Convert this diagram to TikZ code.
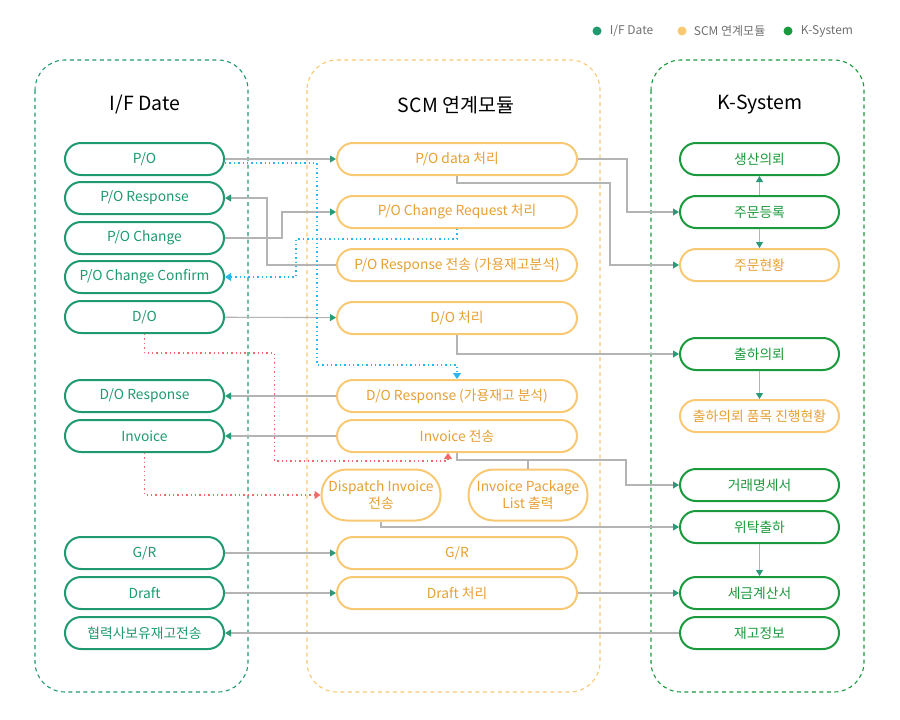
\documentclass[tikz,border=0pt]{standalone}
\usepackage{fontspec}
\setmainfont{Noto Sans CJK KR}
\usetikzlibrary{arrows.meta, positioning}
\definecolor{ifgreen}{HTML}{1E9A6E}
\definecolor{kgreen}{HTML}{1A9A3C}
\definecolor{scmline}{HTML}{F9C873}
\definecolor{scmtext}{HTML}{E6A035}
\definecolor{linkgray}{HTML}{B4B4B4}
\definecolor{tipgreen}{HTML}{2A9A78}
\definecolor{dotblue}{HTML}{2BB7EE}
\definecolor{dotred}{HTML}{F36A6A}
\definecolor{legendgray}{HTML}{707070}
\tikzstyle{box}=[draw, rectangle, line width=2pt, rounded corners=16pt,
  minimum height=32pt, inner sep=0pt, fill=white, font=\fontsize{13.8}{16}\selectfont]
\tikzstyle{ifbox}=[box, draw=ifgreen, text=ifgreen, minimum width=159pt]
\tikzstyle{scmbox}=[box, draw=scmline, text=scmtext, minimum width=240pt]
\tikzstyle{kbox}=[box, draw=kgreen, text=kgreen, minimum width=159pt]
\tikzstyle{kscmbox}=[scmbox, minimum width=159pt]
\tikzstyle{bigbox}=[scmbox, minimum width=119pt, minimum height=51pt,
  rounded corners=25pt, align=center, font=\fontsize{13.8}{17}\selectfont]
\tikzstyle{frame}=[line width=1.1pt, dash pattern=on 4pt off 3.5pt, rounded corners=30pt]
\tikzstyle{title}=[font=\fontsize{19.5}{22}\selectfont, text=black]
\tikzstyle{link}=[draw=linkgray, line width=1.1pt, -{Triangle[width=7pt,length=6pt,color=tipgreen]}]
\tikzstyle{plain}=[draw=linkgray, line width=1.1pt]
\tikzstyle{bluelink}=[draw=dotblue, line width=1.4pt, dash pattern=on 1.4pt off 3pt,
  -{Triangle[width=8pt,length=6pt,color=dotblue]}]
\tikzstyle{redlink}=[draw=dotred, line width=1.4pt, dash pattern=on 1.4pt off 3pt,
  -{Triangle[width=8pt,length=6pt,color=dotred]}]
\tikzstyle{legdot}=[circle, inner sep=0pt, minimum size=9pt]
\tikzstyle{legtext}=[text=legendgray, font=\fontsize{12}{14}\selectfont, inner sep=0pt]

\begin{document}
\begin{tikzpicture}[x=1pt, y=-1pt, >=latex]
    \useasboundingbox (0,0) rectangle (900,720);
    % legend
    \node[legdot, fill=ifgreen] (legif) at (597,31) {};
    \node[legtext, right=8pt of legif] (legiftext) {I/F Date};
    \node[legdot, fill=scmline] (legscm) at (682,31) {};
    \node[legtext, right=7pt of legscm] (legscmtext) {SCM 연계모듈};
    \node[legdot, fill=kgreen] (legk) at (788,31) {};
    \node[legtext, right=8pt of legk] (legktext) {K-System};
    % frames
    \draw[frame, draw=ifgreen] (35,60) rectangle (248,692);
    \draw[frame, draw=scmline] (307,60) rectangle (600,692);
    \draw[frame, draw=kgreen] (651,60) rectangle (864,692);
    \node[title] (iftitle) at (145,105) {I/F Date};
    \node[title] (scmtitle) at (456,105) {SCM 연계모듈};
    \node[title] (ktitle) at (760,105) {K-System};
    % I/F Date
    \node[ifbox] (po) at (144.5,159) {P/O};
    \node[ifbox] (poresp) at (144.5,198) {P/O Response};
    \node[ifbox] (pochg) at (144.5,238) {P/O Change};
    \node[ifbox] (pocfm) at (144.5,277) {P/O Change Confirm};
    \node[ifbox] (do) at (144.5,317) {D/O};
    \node[ifbox] (doresp) at (144.5,396) {D/O Response};
    \node[ifbox] (inv) at (144.5,436) {Invoice};
    \node[ifbox] (gr) at (144.5,553) {G/R};
    \node[ifbox] (draft) at (144.5,593) {Draft};
    \node[ifbox] (stock) at (144.5,633) {협력사보유재고전송};
    % SCM
    \node[scmbox] (podata) at (457,159) {P/O data 처리};
    \node[scmbox] (pochreq) at (457,212) {P/O Change Request 처리};
    \node[scmbox] (porsend) at (457,265) {P/O Response 전송 (가용재고분석)};
    \node[scmbox] (dopro) at (457,318) {D/O 처리};
    \node[scmbox] (dorsend) at (457,396) {D/O Response (가용재고 분석)};
    \node[scmbox] (invsend) at (457,436) {Invoice 전송};
    \node[bigbox] (dispatch) at (381,495) {Dispatch Invoice\\전송};
    \node[bigbox] (pkglist) at (528,495) {Invoice Package\\List 출력};
    \node[scmbox] (grscm) at (457,553) {G/R};
    \node[scmbox] (draftpro) at (457,593) {Draft 처리};
    % K-System
    \node[kbox] (prodreq) at (759.5,159) {생산의뢰};
    \node[kbox] (order) at (759.5,212) {주문등록};
    \node[kscmbox] (orderstat) at (759.5,265) {주문현황};
    \node[kbox] (shipreq) at (759.5,354) {출하의뢰};
    \node[kscmbox] (shipstat) at (759.5,416) {출하의뢰 품목 진행현황};
    \node[kbox] (trade) at (759.5,485) {거래명세서};
    \node[kbox] (consign) at (759.5,527) {위탁출하};
    \node[kbox] (taxinv) at (759.5,593) {세금계산서};
    \node[kbox] (stockinfo) at (759.5,633) {재고정보};
    % links
    \draw[link] (po) -- (podata);
    \draw[link] (porsend.west) -- ++(-69,0) |- (poresp.east);
    \draw[link] (pochg.east) -- ++(57,0) |- (pochreq.west);
    \draw[link] (podata.east) -- ++(49,0) |- (order.west);
    \draw[link] (podata.south) -- ++(0,7) -| ([xshift=-69pt]orderstat.west) -- (orderstat.west);
    \draw[link] (order) -- (prodreq);
    \draw[link] (order) -- (orderstat);
    \draw[link] (do) -- (dopro);
    \draw[link] (dopro.south) |- (shipreq.west);
    \draw[link] (shipreq) -- (shipstat);
    \draw[link] (dorsend) -- (doresp);
    \draw[link] (invsend) -- (inv);
    \coordinate (invsplit) at ([yshift=-7pt]invsend.south);
    \draw[link] (invsend.south) -- (invsplit) -| ([xshift=-53pt]trade.west) -- (trade.west);
    \draw[plain] (pkglist.north |- invsplit) -- (pkglist.north);
    \draw[link] (dispatch.south) |- (consign.west);
    \draw[link] (consign) -- (taxinv);
    \draw[link] (gr) -- (grscm);
    \draw[link] (draft) -- (draftpro);
    \draw[link] (draftpro) -- (taxinv);
    \draw[link] (stockinfo) -- (stock);
    % dotted flows
    \draw[bluelink] ([yshift=-4pt]po.east) -- ++(92,0) |- ([yshift=14pt]dorsend.north) -- (dorsend.north);
    \draw[bluelink] (pochreq.south) -- ++(0,10) -| ([xshift=71pt]pocfm.east) -- (pocfm.east);
    \draw[redlink] (do.south) -- ++(0,19) -- ++(130,0) |- ([xshift=-9pt,yshift=-8pt]invsend.south) -- ([xshift=-9pt]invsend.south);
    \draw[redlink] (inv.south) |- (dispatch.west);
\end{tikzpicture}
\end{document}
